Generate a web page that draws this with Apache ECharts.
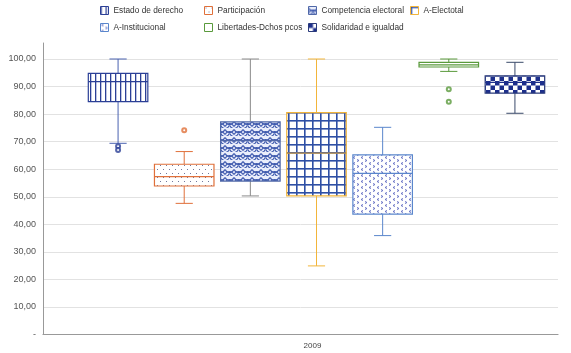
<!DOCTYPE html>
<html>
<head>
<meta charset="utf-8">
<script src="https://cdn.jsdelivr.net/npm/echarts@6/dist/echarts.min.js"></script>
<style>
  html, body { margin: 0; padding: 0; background: #fff; }
  #chart { width: 571px; height: 353px; }
</style>
</head>
<body>
<div id="chart"></div>
<script>
// values
const names = ['Estado de derecho', 'Participación', 'Competencia electoral', 'A-Electotal',
  'A-Institucional', 'Libertades-Dchos pcos', 'Solidaridad e igualdad']
const mins = [69.4, 47.6, 50.3, 24.9, 35.9, 95.5, 80.3]
const q1s = [84.5, 53.9, 55.7, 50.3, 43.7, 97.1, 87.6]
const medians = [91.8, 57.3, 70.4, 65.8, 58.5, 97.9, 91.5]
const q3s = [94.8, 61.8, 77.2, 80.5, 65.2, 98.8, 93.9]
const maxs = [100, 66.4, 100, 100, 75.2, 100, 98.8]
const outliers = [[0, 68.3], [0, 67.0], [1, 74.1], [5, 89.0], [5, 84.5]]
const xLabels = ['2009']
const yTickLabels = ['-', '10,00', '20,00', '30,00', '40,00', '50,00', '60,00', '70,00', '80,00', '90,00', '100,00']

const FONT = 'Liberation Sans'

function tile(w, h, draw) {
  const c = document.createElement('canvas')
  c.width = w
  c.height = h
  const ctx = c.getContext('2d')
  draw(ctx)
  return { image: c, repeat: 'repeat' }
}

const patterns = [
  // vertical lines
  tile(5, 5, ctx => {
    ctx.fillStyle = '#fff'; ctx.fillRect(0, 0, 5, 5)
    ctx.fillStyle = '#2b3f96'; ctx.fillRect(0, 0, 1.3, 5)
  }),
  // dots
  tile(6, 8, ctx => {
    ctx.fillStyle = '#fff'; ctx.fillRect(0, 0, 6, 8)
    ctx.fillStyle = '#70789c'; ctx.fillRect(1, 1, 1, 1); ctx.fillRect(4, 5, 1, 1)
  }),
  // scallops
  tile(9, 8, ctx => {
    ctx.fillStyle = '#eaeefb'; ctx.fillRect(0, 0, 9, 8)
    ctx.strokeStyle = '#3f5aae'; ctx.lineWidth = 1.2
    ctx.beginPath(); ctx.arc(4.5, 0, 4.5, 0.1 * Math.PI, 0.9 * Math.PI); ctx.stroke()
    ctx.beginPath(); ctx.arc(0, 4, 4.5, 0.1 * Math.PI, 0.9 * Math.PI); ctx.stroke()
    ctx.beginPath(); ctx.arc(9, 4, 4.5, 0.1 * Math.PI, 0.9 * Math.PI); ctx.stroke()
    ctx.beginPath(); ctx.arc(4.5, 8, 4.5, 1.1 * Math.PI, 1.9 * Math.PI); ctx.stroke()
  }),
  // grid
  tile(8, 8, ctx => {
    ctx.fillStyle = '#fff'; ctx.fillRect(0, 0, 8, 8)
    ctx.fillStyle = '#2e4fa5'; ctx.fillRect(0, 0, 1.6, 8); ctx.fillRect(0, 0, 8, 1.6)
  }),
  // chevrons
  tile(8, 6, ctx => {
    ctx.fillStyle = '#fff'; ctx.fillRect(0, 0, 8, 6)
    ctx.strokeStyle = '#6670c4'; ctx.lineWidth = 1
    ctx.beginPath(); ctx.moveTo(3, 0.5); ctx.lineTo(1, 1.5); ctx.lineTo(3, 2.5); ctx.stroke()
    ctx.beginPath(); ctx.moveTo(5, 3.5); ctx.lineTo(7, 4.5); ctx.lineTo(5, 5.5); ctx.stroke()
  }),
  // plain
  tile(4, 4, ctx => {
    ctx.fillStyle = '#fff'; ctx.fillRect(0, 0, 4, 4)
  }),
  // checker
  tile(9, 9, ctx => {
    ctx.fillStyle = '#fff'; ctx.fillRect(0, 0, 9, 9)
    ctx.fillStyle = '#1d2f8c'; ctx.fillRect(0, 0, 4.5, 4.5); ctx.fillRect(4.5, 4.5, 4.5, 4.5)
  })
]

const borders = ['#2b3f96', '#e0703a', '#5068a8', '#f2b53a', '#5a86cc', '#5a9a3c', '#2a3a7a']
const whiskers = ['#4a62b0', '#e0703a', '#8a8a8a', '#f2b53a', '#5a86cc', '#5a9a3c', '#3a4a6a']
const medianColors = ['#2b3f96', '#e0703a', '#5068a8', '#c79a4a', '#5a86cc', '#5a9a3c', '#1d2f8c']

function renderBox(params, api) {
  const i = api.value(0)
  const band = api.size([1, 0])[0]
  const bw = band * 0.9
  const cw = band * 0.26
  const x = api.coord([i, 0])[0]
  const yMin = api.coord([i, api.value(1)])[1]
  const yQ1 = api.coord([i, api.value(2)])[1]
  const yMed = api.coord([i, api.value(3)])[1]
  const yQ3 = api.coord([i, api.value(4)])[1]
  const yMax = api.coord([i, api.value(5)])[1]
  const w = { stroke: whiskers[i], lineWidth: 1 }
  return {
    type: 'group',
    children: [
      { type: 'line', shape: { x1: x, y1: yMax, x2: x, y2: yQ3 }, style: w },
      { type: 'line', shape: { x1: x, y1: yQ1, x2: x, y2: yMin }, style: w },
      { type: 'line', shape: { x1: x - cw / 2, y1: yMax, x2: x + cw / 2, y2: yMax }, style: w },
      { type: 'line', shape: { x1: x - cw / 2, y1: yMin, x2: x + cw / 2, y2: yMin }, style: w },
      {
        type: 'rect',
        shape: { x: x - bw / 2, y: yQ3, width: bw, height: yQ1 - yQ3 },
        style: { fill: patterns[i], stroke: borders[i], lineWidth: 1.2 }
      },
      {
        type: 'line',
        shape: { x1: x - bw / 2, y1: yMed, x2: x + bw / 2, y2: yMed },
        style: { stroke: medianColors[i], lineWidth: 1.2 }
      }
    ]
  }
}

const legendPos = [[100, 6], [204, 6], [308, 6], [410, 6], [100, 23], [204, 23], [308, 23]]

const chart = echarts.init(document.getElementById('chart'))

chart.setOption({
  animation: false,
  backgroundColor: '#ffffff',
  legend: names.map((n, i) => ({
    left: legendPos[i][0],
    top: legendPos[i][1],
    padding: 0,
    selectedMode: false,
    itemWidth: 8,
    itemHeight: 8,
    textStyle: { fontSize: 8.3, color: '#333', fontFamily: FONT },
    data: [{ name: n, icon: 'rect', itemStyle: { color: patterns[i], borderColor: borders[i], borderWidth: 1 } }]
  })),
  grid: [
    { left: 43, right: 13, top: 59, bottom: 18.5 },
    { left: 43, right: 13, top: 43, bottom: 18.5 },
    { left: 85, right: 23, top: 59, bottom: 18.5 }
  ],
  xAxis: [
    {
      gridIndex: 0,
      type: 'category',
      data: xLabels,
      axisLine: { lineStyle: { color: '#999', width: 1.2 } },
      axisTick: { show: false },
      axisLabel: { fontSize: 8, color: '#444', fontFamily: FONT, margin: 7, padding: [0, 0, 0, 24] }
    },
    { gridIndex: 1, type: 'category', data: xLabels, show: false },
    { gridIndex: 2, type: 'category', data: names, show: false }
  ],
  yAxis: [
    {
      gridIndex: 0,
      type: 'value',
      min: 0,
      max: 100,
      interval: 10,
      axisLine: { show: false },
      axisTick: { show: false },
      axisLabel: {
        fontSize: 9,
        color: '#555',
        fontFamily: FONT,
        margin: 7,
        formatter: v => yTickLabels[Math.round(v / 10)]
      },
      splitLine: { lineStyle: { color: '#e2e2e2' } }
    },
    {
      gridIndex: 1,
      type: 'value',
      min: 0,
      max: 100,
      axisLine: { show: true, lineStyle: { color: '#999' } },
      axisTick: { show: false },
      axisLabel: { show: false },
      splitLine: { show: false }
    },
    { gridIndex: 2, type: 'value', min: 0, max: 100, show: false, splitLine: { show: false } }
  ],
  series: [
    ...names.map((n, i) => ({
      name: n,
      type: 'custom',
      xAxisIndex: 2,
      yAxisIndex: 2,
      renderItem: renderBox,
      encode: { x: 0, y: [1, 2, 3, 4, 5] },
      itemStyle: { color: borders[i] },
      data: [[i, mins[i], q1s[i], medians[i], q3s[i], maxs[i]]]
    })),
    {
      name: 'outliers',
      type: 'scatter',
      xAxisIndex: 2,
      yAxisIndex: 2,
      symbol: 'emptyCircle',
      symbolSize: 4,
      data: outliers.map(o => ({ value: o, itemStyle: { color: borders[o[0]], borderWidth: 1 } }))
    }
  ]
})
</script>
</body>
</html>
